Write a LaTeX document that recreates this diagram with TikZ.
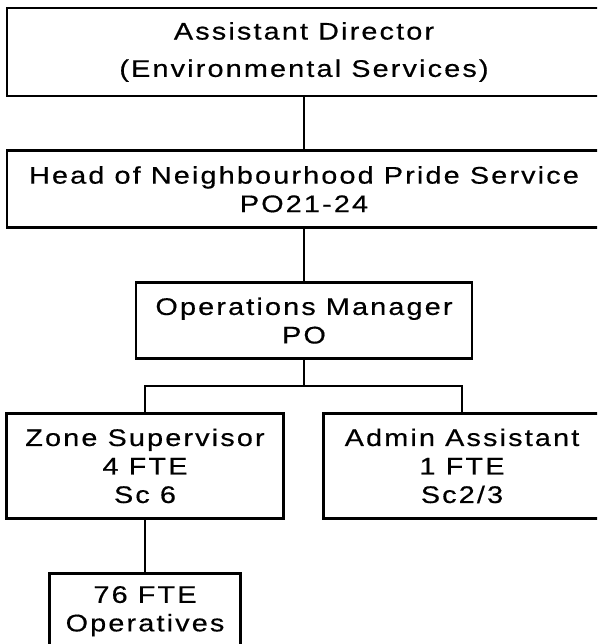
\documentclass[tikz,border=0pt]{standalone}
\usepackage{fontspec}
\setmainfont{Liberation Sans}[LetterSpace=9,FakeStretch=1.2,FakeBold=0.5]
\usetikzlibrary{positioning, calc}
\tikzset{
  rolebox/.style={rectangle, draw=black, fill=white, line width=2.8pt,
                  inner sep=0pt, align=center,
                  font=\fontsize{24pt}{28.5pt}\selectfont, text=black},
}
\begin{document}
\begin{tikzpicture}[
        link/.style={line width=2.8pt, color=black},
        node distance=52pt
      ]
        \clip (0pt,0pt) rectangle (597pt,-644pt);
        \node[rolebox, minimum width=594pt, minimum height=88pt] (director) at (304pt,-52pt) {Assistant Director\\[8.8pt](Environmental Services)};
        \node[rolebox, minimum width=594pt, minimum height=77pt, below=of director] (head) {Head of Neighbourhood Pride Service\\PO21-24};
        \node[rolebox, minimum width=336pt, minimum height=76pt, below=of head] (opsmgr) {Operations Manager\\PO};
        \node[rolebox, minimum width=277pt, minimum height=105pt, below=of opsmgr, xshift=-159pt] (zone) {Zone Supervisor\\4 FTE\\Sc 6};
        \node[rolebox, minimum width=277pt, minimum height=105pt, below=of opsmgr, xshift=158pt] (admin) {Admin Assistant\\1 FTE\\Sc2/3};
        \node[rolebox, minimum width=191pt, minimum height=76pt, below=of zone] (operatives) {76 FTE\\Operatives};
        \coordinate[below=26pt of opsmgr] (split);
        \draw[link] (director) -- (head);
        \draw[link] (head) -- (opsmgr);
        \draw[link] (opsmgr) -- (split);
        \draw[link] (zone.north) |- (split) -| (admin.north);
        \draw[link] (zone) -- (operatives);
      \end{tikzpicture}
\end{document}
